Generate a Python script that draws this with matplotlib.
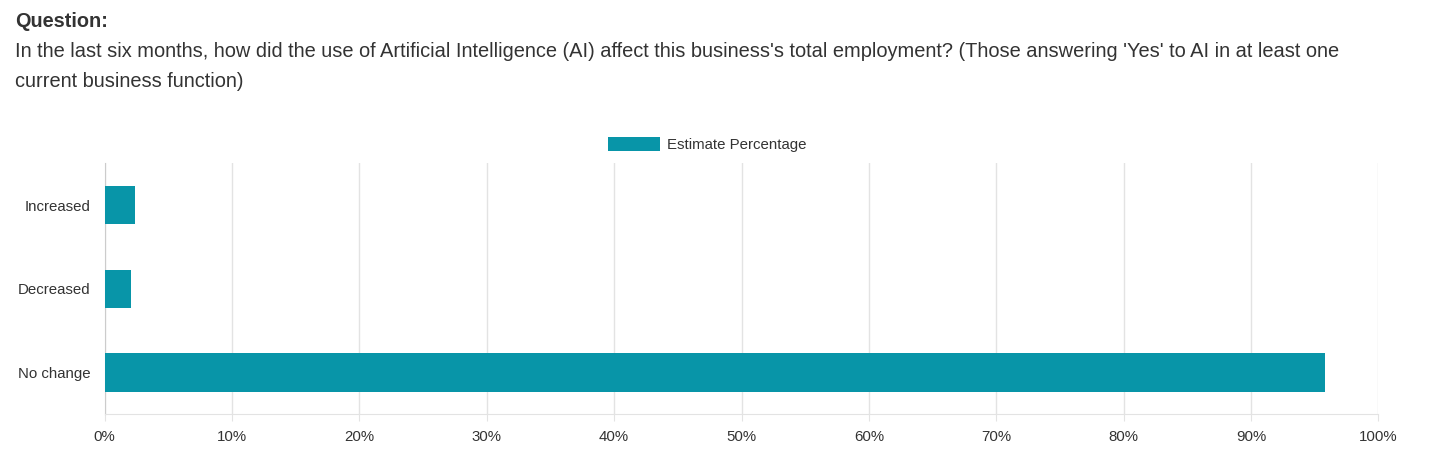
import matplotlib.pyplot as plt
import matplotlib.ticker as mticker

# Dados
categorias = ['Increased', 'Decreased', 'No change']
percentual = [2.36, 2.04, 95.8]
ticks_x = [0, 10, 20, 30, 40, 50, 60, 70, 80, 90, 100]

cor_barra = '#0895a8'
cor_texto = '#333333'
cor_grade = '#e3e3e3'

plt.rcParams['font.family'] = ['Liberation Sans', 'DejaVu Sans']

fig = plt.figure(figsize=(14.32, 4.75), dpi=100)
ax = fig.add_axes([104.7 / 1432, 60.7 / 475, (1378.3 - 104.7) / 1432, 251 / 475])

y = list(range(len(categorias)))
ax.barh(y, percentual, height=0.46, color=cor_barra, label='Estimate Percentage', zorder=3)

ax.set_xlim(0, 100)
ax.set_ylim(len(categorias) - 0.5, -0.5)
ax.set_yticks(y)
ax.set_yticklabels(categorias)
ax.set_xticks(ticks_x)
ax.xaxis.set_major_formatter(mticker.FuncFormatter(lambda v, p: '%d%%' % v))

ax.grid(axis='x', color=cor_grade, linewidth=1, zorder=0)
for lado in ['top', 'right']:
    ax.spines[lado].set_visible(False)
ax.spines['left'].set_color('#cccccc')
ax.spines['bottom'].set_color(cor_grade)

ax.tick_params(axis='x', length=5, color=cor_grade, pad=6, labelsize=10.8, labelcolor=cor_texto)
ax.tick_params(axis='y', length=0, pad=10, labelsize=10.8, labelcolor=cor_texto)

# Legenda
fig.legend(loc='center', bbox_to_anchor=(707.5 / 1432, 1 - 144.5 / 475), frameon=False,
           fontsize=10.8, handlelength=3.47, handleheight=1.04, handletextpad=0.45,
           labelcolor=cor_texto)

# Titulo
fig.text(15 / 1432, 1 - 27 / 475, 'Question:', fontsize=14.3, fontweight='bold',
         color=cor_texto, va='baseline', ha='left')
fig.text(15 / 1432, 1 - 57 / 475,
         "In the last six months, how did the use of Artificial Intelligence (AI) affect this business's total employment? (Those answering 'Yes' to AI in at least one",
         fontsize=14.4, color=cor_texto, va='baseline', ha='left')
fig.text(15 / 1432, 1 - 87 / 475, 'current business function)',
         fontsize=14.4, color=cor_texto, va='baseline', ha='left')

fig.savefig('out.png', dpi=100)
